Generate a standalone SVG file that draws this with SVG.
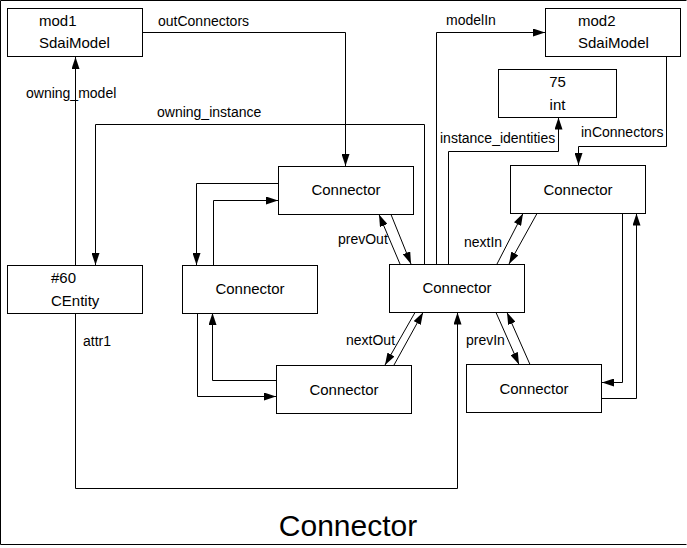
<svg xmlns="http://www.w3.org/2000/svg" width="687" height="548" viewBox="0 0 687 548">
<defs>
<marker id="arr" markerUnits="userSpaceOnUse" markerWidth="12" markerHeight="8" refX="12" refY="4" orient="auto">
<path d="M0,0 L12,4 L0,8 z" fill="#000"/>
</marker>
<style>
.box{fill:#fff;stroke:#000;stroke-width:1}
.nt{font-family:"Liberation Sans",Arial,sans-serif;font-size:15px;fill:#000}
.c{text-anchor:middle}
.lb{font-family:"Liberation Sans",Arial,sans-serif;font-size:14px;fill:#000}
.ln{fill:none;stroke:#000;stroke-width:1;marker-end:url(#arr)}
</style>
</defs>
<rect x="0" y="0" width="687" height="548" fill="#fff"/>
<path d="M686.5,0.5 H0.5 V544.5 H686.5" fill="none" stroke="#000" stroke-width="1"/>

<g id="connectors">
<path class="ln" d="M142.5,32.5 H345.5 V166"/>
<path class="ln" d="M75.5,265 V57"/>
<path class="ln" d="M424.5,264 V124.5 H95.5 V265"/>
<path class="ln" d="M436.5,264 V32.5 H545"/>
<path class="ln" d="M448.5,264 V151.5 H558.5 V117.5"/>
<path class="ln" d="M666.5,56 V146.5 H578.5 V165"/>
<path class="ln" d="M75.5,313 V488.5 H457.5 V312.5"/>
<path class="ln" d="M278,183.5 H196.5 V265"/>
<path class="ln" d="M213.5,265 V200.5 H278"/>
<path class="ln" d="M197.5,313 V396.5 H276"/>
<path class="ln" d="M276,380.5 H212.5 V313"/>
<path class="ln" d="M400,264 L379,214.5"/>
<path class="ln" d="M391,214.5 L411,264"/>
<path class="ln" d="M415,312.5 L385,365"/>
<path class="ln" d="M394,365 L423,312.5"/>
<path class="ln" d="M497,264 L523,213.5"/>
<path class="ln" d="M537,213.5 L509,264"/>
<path class="ln" d="M496,312.5 L519,364.5"/>
<path class="ln" d="M530,364.5 L507,312.5"/>
<path class="ln" d="M622.5,213.5 V382.5 H602"/>
<path class="ln" d="M602,398.5 H636.5 V213.5"/>
<text class="lb" x="158" y="26">outConnectors</text>
<text class="lb" x="26" y="98">owning_model</text>
<text class="lb" x="157" y="117">owning_instance</text>
<text class="lb" x="446" y="25">modelIn</text>
<text class="lb" x="440" y="143">instance_identities</text>
<text class="lb" x="581" y="137">inConnectors</text>
<text class="lb" x="338" y="244">prevOut</text>
<text class="lb" x="346" y="345">nextOut</text>
<text class="lb" x="464" y="247">nextIn</text>
<text class="lb" x="466" y="345">prevIn</text>
<text class="lb" x="83" y="346">attr1</text>
</g>

<g id="mod1">
<rect class="box" x="7.5" y="8.5" width="135" height="48"/>
<text class="nt" x="39" y="26">mod1</text>
<text class="nt" x="39" y="48">SdaiModel</text>
</g>
<g id="mod2">
<rect class="box" x="545.5" y="8.5" width="135" height="48"/>
<text class="nt" x="578" y="26">mod2</text>
<text class="nt" x="578" y="48">SdaiModel</text>
</g>
<g id="int75">
<rect class="box" x="498.5" y="69.5" width="118" height="48"/>
<text class="nt c" x="557.5" y="87">75</text>
<text class="nt c" x="557.5" y="110">int</text>
</g>
<g id="centity">
<rect class="box" x="7.5" y="265.5" width="135" height="48"/>
<text class="nt" x="51" y="283">#60</text>
<text class="nt" x="51" y="306">CEntity</text>
</g>
<g id="conn_top">
<rect class="box" x="278.5" y="166.5" width="135" height="48"/>
<text class="nt c" x="346" y="195">Connector</text>
</g>
<g id="conn_left">
<rect class="box" x="182.5" y="265.5" width="135" height="48"/>
<text class="nt c" x="250" y="294">Connector</text>
</g>
<g id="conn_center">
<rect class="box" x="389.5" y="264.5" width="135" height="48"/>
<text class="nt c" x="457" y="293">Connector</text>
</g>
<g id="conn_bottom">
<rect class="box" x="276.5" y="365.5" width="135" height="48"/>
<text class="nt c" x="344" y="395">Connector</text>
</g>
<g id="conn_rtop">
<rect class="box" x="510.5" y="165.5" width="135" height="48"/>
<text class="nt c" x="578" y="195">Connector</text>
</g>
<g id="conn_rbottom">
<rect class="box" x="466.5" y="364.5" width="135" height="48"/>
<text class="nt c" x="534" y="394">Connector</text>
</g>
<text x="348" y="536" font-family="'Liberation Sans',Arial,sans-serif" font-size="30" text-anchor="middle" fill="#000">Connector</text>
</svg>
